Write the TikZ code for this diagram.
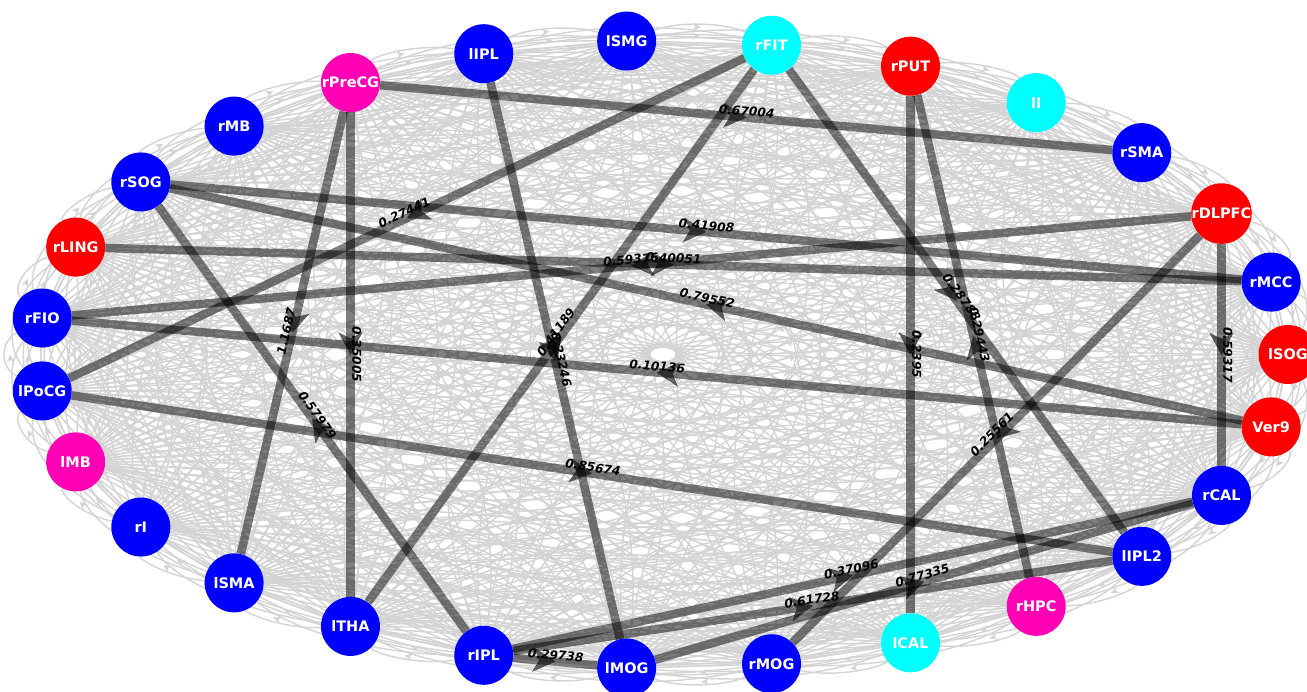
\documentclass[tikz,border=0pt]{standalone}
\usepackage{fontspec}
\setmainfont{DejaVu Sans}
\usetikzlibrary{arrows.meta,decorations.markings}
\pgfdeclarelayer{back}
\pgfdeclarelayer{faintlayer}
\pgfdeclarelayer{stronglayer}
\pgfsetlayers{back,faintlayer,stronglayer,main}
\definecolor{nblue}{HTML}{0000FF}
\definecolor{nred}{HTML}{FF0000}
\definecolor{ncyan}{HTML}{00FFFF}
\definecolor{nmag}{HTML}{FF00B4}
\definecolor{faintgray}{HTML}{D4D4D4}
\def\names{lSOG,rMCC,rDLPFC,rSMA,lI,rPUT,rFIT,lSMG,lIPL,rPreCG,rMB,rSOG,rLING,rFIO,lPoCG,lMB,rI,lSMA,lTHA,rIPL,lMOG,rMOG,lCAL,rHPC,lIPL2,rCAL,Ver9}
\def\strongedges{rPreCG/rSMA/0.67004, rPreCG/lSMA/1.1687, rPreCG/lTHA/0.35005, lIPL/lMOG/0.23246, lTHA/rFIT/0.41189, rSOG/rMCC/0.41908, Ver9/rSOG/0.79552, rIPL/rSOG/0.57979, rLING/rMCC/0.40051, rDLPFC/rFIO/0.59376, Ver9/rFIO/0.10136, rFIT/lPoCG/0.27441, lPoCG/lIPL2/0.85674, rPUT/lCAL/0.2395, rHPC/rPUT/0.29443, rFIT/lIPL2/0.28788, rDLPFC/rCAL/0.59317, rDLPFC/rMOG/0.25561, rIPL/rCAL/0.37096, lMOG/rCAL/0.77335, rIPL/lIPL2/0.61728, rIPL/lMOG/0.29738}
\begin{document}
\begin{tikzpicture}[x=1pt,y=1pt,
  region/.style={circle,minimum size=59pt,inner sep=0pt,text=white,font=\fontsize{14.5}{16}\selectfont\bfseries},
  faint/.style={draw=faintgray,line width=1.4pt},
  faintarrow/.style={draw=faintgray,fill=faintgray,line width=0.8pt,-{Stealth[length=8pt,width=7pt]}},
  strong/.style={draw=black,draw opacity=0.5,line width=8.5pt,postaction={decorate},
    decoration={markings,mark=at position 0.5 with {\pgfsetfillopacity{0.6}\pgfsetstrokeopacity{0.6}\arrow{Stealth[length=22pt,width=24pt,inset=6pt,line width=0.01pt]}}}},
  wlabel/.style={midway,sloped,above,inner sep=1.5pt,text=black,font=\fontsize{12.2}{13}\selectfont\bfseries\itshape}]
\useasboundingbox (-663,-337.5) rectangle (644,354.5);
\begin{pgfonlayer}{back}
\fill[white] (-663,-337.5) rectangle (644,354.5);
\end{pgfonlayer}
% nodes
\foreach \nm/\col [count=\k from 0] in {lSOG/nred,rMCC/nblue,rDLPFC/nred,rSMA/nblue,lI/ncyan,rPUT/nred,rFIT/ncyan,lSMG/nblue,lIPL/nblue,rPreCG/nmag,rMB/nblue,rSOG/nblue,rLING/nred,rFIO/nblue,lPoCG/nblue,lMB/nmag,rI/nblue,lSMA/nblue,lTHA/nblue,rIPL/nblue,lMOG/nblue,rMOG/nblue,lCAL/ncyan,rHPC/nmag,lIPL2/nblue,rCAL/nblue,Ver9/nred}
  \node[region,fill=\col] (\nm) at ({625*cos(\k*360/27)},{314*sin(\k*360/27)}) {\nm};
% faint background edges
\begin{pgfonlayer}{faintlayer}
\foreach \a [count=\i from 0] in \names {
  \foreach \b [count=\j from 0] in \names {
    \ifnum\i=\j\relax\else
      \pgfmathsetmacro\Pxa{314*cos(\i*360/27)}
      \pgfmathsetmacro\Pya{314*sin(\i*360/27)}
      \pgfmathsetmacro\Pxb{314*cos(\j*360/27)}
      \pgfmathsetmacro\Pyb{314*sin(\j*360/27)}
      \pgfmathsetmacro\Pdx{\Pxb-(\Pxa)}
      \pgfmathsetmacro\Pdy{\Pyb-(\Pya)}
      \pgfmathsetmacro\Plen{veclen(\Pdx,\Pdy)}
      \pgfmathsetmacro\Poff{(0.055*\Plen+12)/0.75}
      \pgfmathsetmacro\Pnx{-(\Pdy)/\Plen*\Poff}
      \pgfmathsetmacro\Pny{(\Pdx)/\Plen*\Poff}
      \pgfmathsetmacro\Cax{1.9904*(\Pxa+(\Pdx)/3+(\Pnx))}
      \pgfmathsetmacro\Cay{\Pya+(\Pdy)/3+(\Pny)}
      \pgfmathsetmacro\Cbx{1.9904*(\Pxa+2*(\Pdx)/3+(\Pnx))}
      \pgfmathsetmacro\Cby{\Pya+2*(\Pdy)/3+(\Pny)}
      \pgfmathsetmacro\Mx{1.9904*(\Pxa+(\Pdx)/2+0.75*(\Pnx))}
      \pgfmathsetmacro\My{\Pya+(\Pdy)/2+0.75*(\Pny)}
      \pgfmathsetmacro\Ulen{veclen(1.9904*(\Pdx),\Pdy)}
      \pgfmathsetmacro\Tx{\Mx-4*1.9904*(\Pdx)/\Ulen}
      \pgfmathsetmacro\Ty{\My-4*(\Pdy)/\Ulen}
      \draw[faint] (\a) .. controls (\Cax,\Cay) and (\Cbx,\Cby) .. (\b);
      \draw[faintarrow] (\Tx,\Ty) -- (\Mx,\My);
    \fi
  }
}
\end{pgfonlayer}
% strong edges
\begin{pgfonlayer}{stronglayer}
\foreach \src/\dst/\wt in \strongedges
  \draw[strong] (\src) -- (\dst);
\end{pgfonlayer}
% labels
\foreach \src/\dst/\wt in \strongedges
  \path (\src) -- (\dst) node[wlabel]{\wt};
\end{tikzpicture}
\end{document}
